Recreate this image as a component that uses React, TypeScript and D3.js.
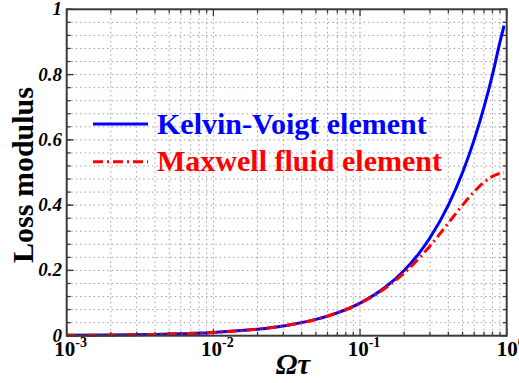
import React from "react";
import * as d3 from "d3";

const omegaTau = [0.001, 0.002, 0.005, 0.01, 0.02, 0.03, 0.05, 0.07, 0.1, 0.15, 0.2, 0.25, 0.3, 0.4, 0.5, 0.6, 0.7, 0.8, 0.9, 0.96];
const kelvinVoigt = [0.001, 0.002, 0.005, 0.01, 0.02, 0.03, 0.05, 0.07, 0.1, 0.15, 0.2, 0.25, 0.3, 0.4, 0.5, 0.6, 0.7, 0.8, 0.9, 0.95];
const maxwellFluid = [0.001, 0.002, 0.005, 0.01, 0.02, 0.03, 0.05, 0.07, 0.099, 0.147, 0.192, 0.235, 0.275, 0.345, 0.4, 0.441, 0.47, 0.488, 0.497, 0.499];
const xMajorTicks = [0.001, 0.01, 0.1, 1];
const xTickExponents = ["-3", "-2", "-1", "0"];
const yMajorTicks = [0, 0.2, 0.4, 0.6, 0.8, 1];
const yTickLabels = ["0", "0.2", "0.4", "0.6", "0.8", "1"];
const seriesNames = ["Kelvin-Voigt element", "Maxwell fluid element"];

const W = 519, H = 383;
const L = 66.7, R = 506.7, T = 9.3, B = 335.7;
const serif = "Liberation Serif, DejaVu Serif, serif";

export default function App() {
  const x = d3.scaleLog().domain([0.001, 1]).range([L, R]);
  const y = d3.scaleLinear().domain([0, 1]).range([B, T]);

  const xMinor: number[] = [];
  for (let e = -3; e < 0; e++) for (let k = 2; k <= 9; k++) xMinor.push(k * Math.pow(10, e));
  const yMinor = d3.range(0, 26).map((i) => +(i * 0.04).toFixed(2));

  const line = d3
    .line<number>()
    .x((_, i) => x(omegaTau[i]))
    .y((d) => y(d))
    .curve(d3.curveMonotoneX);

  const gridColor = "#a0a0a0";
  const frame = "#3a3a3a";
  const txt = (extra: React.CSSProperties = {}): React.CSSProperties => ({ fontFamily: serif, fontWeight: "bold", ...extra });

  return (
    <svg width={W} height={H} style={{ position: "absolute", left: 0, top: 0, background: "#fff" }}>
      <g stroke={gridColor} strokeWidth={1} strokeDasharray="1.5,3">
        {[...xMinor, ...xMajorTicks.slice(1, 3)].map((v, i) => (
          <line key={"gx" + i} x1={x(v)} x2={x(v)} y1={T} y2={B} />
        ))}
        {yMinor.filter((v) => v > 0 && v < 1).map((v, i) => (
          <line key={"gy" + i} x1={L} x2={R} y1={y(v)} y2={y(v)} />
        ))}
      </g>
      <g stroke={frame} strokeWidth={1.3}>
        {xMinor.map((v, i) => (
          <g key={"xm" + i}>
            <line x1={x(v)} x2={x(v)} y1={B} y2={B - 4} />
            <line x1={x(v)} x2={x(v)} y1={T} y2={T + 4} />
          </g>
        ))}
        {xMajorTicks.map((v, i) => (
          <g key={"xM" + i}>
            <line x1={x(v)} x2={x(v)} y1={B} y2={B - 7} />
            <line x1={x(v)} x2={x(v)} y1={T} y2={T + 7} />
          </g>
        ))}
        {yMinor.map((v, i) => (
          <g key={"ym" + i}>
            <line x1={L} x2={L + 4} y1={y(v)} y2={y(v)} />
            <line x1={R} x2={R - 4} y1={y(v)} y2={y(v)} />
          </g>
        ))}
        {yMajorTicks.map((v, i) => (
          <g key={"yM" + i}>
            <line x1={L} x2={L + 7} y1={y(v)} y2={y(v)} />
            <line x1={R} x2={R - 7} y1={y(v)} y2={y(v)} />
          </g>
        ))}
      </g>
      <path d={line(kelvinVoigt) || ""} fill="none" stroke="#0000ff" strokeWidth={3} />
      <path d={line(maxwellFluid) || ""} fill="none" stroke="#ff0000" strokeWidth={3} strokeDasharray="10,4,2,4" />
      <rect x={L} y={T} width={R - L} height={B - T} fill="none" stroke={frame} strokeWidth={2} />
      {yMajorTicks.map((v, i) => (
        <text key={"yl" + i} x={62} y={y(v) + 6} textAnchor="end" style={txt({ fontStyle: "italic", fontSize: 19 })} fill="#000">
          {yTickLabels[i]}
        </text>
      ))}
      {xMajorTicks.map((v, i) => (
        <text key={"xl" + i} x={x(v) + 4} y={356} textAnchor="middle" style={txt({ fontSize: 21 })} fill="#000">
          10
          <tspan style={{ fontSize: 14 }} dy={-9}>{xTickExponents[i]}</tspan>
        </text>
      ))}
      <text x={293} y={374} textAnchor="middle" style={txt({ fontStyle: "italic", fontSize: 29 })} fill="#000">
        Ωτ
      </text>
      <text transform="translate(33,175) rotate(-90)" textAnchor="middle" style={txt({ fontSize: 30 })} fill="#000">
        Loss modulus
      </text>
      <line x1={93} x2={148} y1={124} y2={124} stroke="#0000ff" strokeWidth={3} />
      <text x={157} y={133.5} style={txt({ fontSize: 30 })} fill="#0000ff">
        {seriesNames[0]}
      </text>
      <line x1={93} x2={148} y1={161.7} y2={161.7} stroke="#ff0000" strokeWidth={3} strokeDasharray="10,4,2,4" />
      <text x={157} y={171} style={txt({ fontSize: 30 })} fill="#ff0000">
        {seriesNames[1]}
      </text>
    </svg>
  );
}
